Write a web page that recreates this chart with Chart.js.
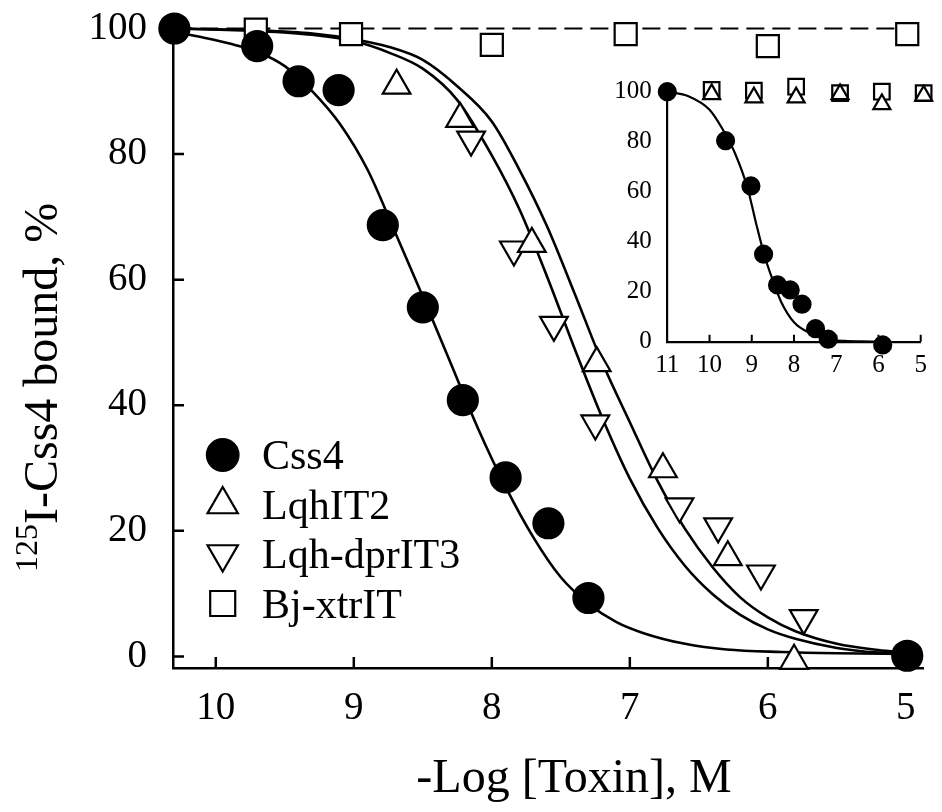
<!DOCTYPE html>
<html>
<head>
<meta charset="utf-8">
<script src="https://cdn.jsdelivr.net/npm/chart.js@4.4.1/dist/chart.umd.min.js"></script>
<style>
  body { margin: 0; background: #fff; }
  #wrap { position: relative; width: 942px; height: 812px; }
  #main { position: absolute; left: 0; top: 0; }
  #inset { position: absolute; left: 590px; top: 70px; }
</style>
</head>
<body>
<div id="wrap">
  <canvas id="main" width="942" height="812"></canvas>
  <canvas id="inset" width="350" height="310"></canvas>
</div>
<script>
// ---- main panel data (-log[toxin] vs % bound) ----
const xTicks = [10, 9, 8, 7, 6, 5];
const yTicks = [0, 20, 40, 60, 80, 100];
const legendLabels = ["Css4", "LqhIT2", "Lqh-dprIT3", "Bj-xtrIT"];

const css4X = [10.3, 9.70, 9.40, 9.11, 8.79, 8.50, 8.21, 7.90, 7.59, 7.30, 4.99];
const css4Y = [100, 97.2, 91.6, 90.2, 68.7, 55.6, 40.8, 28.5, 21.2, 9.3, 0.1];

const lqhX = [8.69, 8.23, 7.71, 7.24, 6.76, 6.29, 5.81];
const lqhY = [90.9, 85.6, 65.7, 46.7, 29.8, 15.8, -0.7];

const dprX = [8.15, 7.84, 7.55, 7.25, 6.64, 6.36, 6.05, 5.74];
const dprY = [82.3, 64.8, 52.8, 37.1, 23.9, 20.7, 13.2, 6.1];

const bjX = [9.71, 9.02, 8.00, 7.03, 6.00, 4.99];
const bjY = [99.8, 99.1, 97.4, 99.1, 97.2, 99.1];

// fitted curves
const css4CurveX = [10.3, 10.1, 9.9, 9.7, 9.5, 9.3, 9.1, 8.9, 8.7, 8.5, 8.3, 8.1, 7.9, 7.7, 7.5, 7.3, 7.1, 6.9, 6.6, 6.3, 5.9, 5.5, 5.0];
const css4CurveY = [99.5, 98.6, 97.6, 96.3, 94, 90, 84.8, 77.5, 67.5, 57.3, 46.8, 36.3, 27, 19, 12.6, 8.4, 5.5, 3.7, 2.0, 1.1, 0.7, 0.5, 0.4];

const fitX = [10.3, 9.7, 9.3, 9.0, 8.75, 8.5, 8.25, 8.0, 7.8, 7.6, 7.4, 7.2, 7.0, 6.8, 6.6, 6.4, 6.2, 6.0, 5.8, 5.5, 5.2, 5.0];
const lqhCurveY = [100, 99.7, 99.2, 98.3, 97.1, 95, 90.8, 85.2, 77.5, 68.5, 57.8, 46.8, 37.3, 28, 20.3, 14.2, 9.4, 6.2, 4.0, 2.0, 1.0, 0.6];
const dprCurveY = [100, 99.6, 99, 98, 96.2, 93.6, 88.6, 79.8, 71.2, 60.5, 49, 38, 28.3, 20.5, 14.4, 9.9, 6.6, 4.3, 2.8, 1.35, 0.6, 0.4];

const bjLineX = [10.3, 5.0];
const bjLineY = [100, 100];

// ---- inset data ----
const insetXTicks = [11, 10, 9, 8, 7, 6, 5];
const insetYTicks = [0, 20, 40, 60, 80, 100];
const inCss4X = [11, 9.62, 9.02, 8.72, 8.39, 8.09, 7.81, 7.49, 7.19, 5.90];
const inCss4Y = [100, 80.4, 62.3, 35, 22.7, 20.7, 15, 5.2, 1, -1.3];
const inTriX = [9.95, 8.95, 7.95, 6.91, 5.92, 4.93];
const inTriY = [99, 97.7, 97.7, 99, 95, 98.4];
const inSqX = [9.95, 8.95, 7.95, 6.91, 5.92, 4.93];
const inSqY = [100.7, 100.4, 102, 99.4, 100, 99.4];
const inCurveX = [11, 10.5, 10.0, 9.7, 9.4, 9.1, 8.9, 8.7, 8.5, 8.3, 8.0, 7.6, 7.2, 6.8, 6.4, 6.0];
const inCurveY = [100, 98.2, 92.8, 85.3, 75.5, 61.5, 47.5, 34.5, 24.5, 15.8, 7.8, 3.3, 1.0, 0.3, 0.1, 0];

const SERIF = "'Liberation Serif', 'Times New Roman', serif";
Chart.defaults.font.family = SERIF;
Chart.defaults.color = "#000";

function pts(xs, ys) {
  return xs.map((x, i) => ({ x: x, y: ys[i] }));
}

function marks(label, xs, ys, style, r, fill, rot) {
  return {
    label: label,
    data: pts(xs, ys),
    showLine: false,
    pointStyle: style,
    pointRadius: r,
    pointHoverRadius: r,
    pointRotation: rot || 0,
    pointBackgroundColor: fill,
    pointBorderColor: "#000",
    pointBorderWidth: 2.2,
    clip: false
  };
}

function curve(xs, ys, w, dash) {
  return {
    data: pts(xs, ys),
    showLine: true,
    pointRadius: 0,
    borderColor: "#000",
    borderWidth: w,
    borderDash: dash || [],
    cubicInterpolationMode: "monotone",
    fill: false,
    clip: false
  };
}

// small tick marks pointing into the plot
const inwardTicks = {
  id: "inwardTicks",
  beforeDatasetsDraw(chart, args, opts) {
    const ctx = chart.ctx, a = chart.chartArea;
    ctx.save();
    ctx.strokeStyle = "#000";
    ctx.lineWidth = opts.width;
    ctx.beginPath();
    opts.xValues.forEach(v => {
      const px = chart.scales.x.getPixelForValue(v);
      ctx.moveTo(px, a.bottom);
      ctx.lineTo(px, a.bottom - opts.len);
    });
    opts.yValues.forEach(v => {
      const py = chart.scales.y.getPixelForValue(v);
      ctx.moveTo(a.left, py);
      ctx.lineTo(a.left + opts.len, py);
    });
    ctx.stroke();
    ctx.restore();
  }
};

function drawMarker(ctx, style, x, y, r, fill) {
  ctx.beginPath();
  if (style === "circle") {
    ctx.arc(x, y, r, 0, Math.PI * 2);
  } else if (style === "up" || style === "down") {
    const s = style === "up" ? 1 : -1;
    const hw = r * Math.sin(Math.PI / 3);
    ctx.moveTo(x, y - s * r);
    ctx.lineTo(x + hw, y + s * r / 2);
    ctx.lineTo(x - hw, y + s * r / 2);
    ctx.closePath();
  } else {
    const h = r * Math.SQRT1_2;
    ctx.rect(x - h, y - h, 2 * h, 2 * h);
  }
  ctx.fillStyle = fill;
  ctx.fill();
  ctx.lineWidth = 2.2;
  ctx.strokeStyle = "#000";
  ctx.stroke();
}

// axis titles and the legend
const annotations = {
  id: "annotations",
  afterDraw(chart) {
    const ctx = chart.ctx;
    ctx.save();
    ctx.fillStyle = "#000";

    // x title
    ctx.font = "48px " + SERIF;
    ctx.textAlign = "center";
    ctx.textBaseline = "alphabetic";
    ctx.fillText("-Log [Toxin], M", 574, 792);

    // y title with superscript
    ctx.save();
    ctx.translate(57, 572);
    ctx.rotate(-Math.PI / 2);
    ctx.textAlign = "left";
    ctx.font = "32px " + SERIF;
    ctx.fillText("125", 0, -20);
    const supW = ctx.measureText("125").width;
    ctx.font = "48px " + SERIF;
    ctx.fillText("I-Css4 bound, %", supW, 0);
    ctx.restore();

    // legend
    const styles = ["circle", "up", "down", "rect"];
    const fills = ["#000", "#fff", "#fff", "#fff"];
    const radii = [15.8, 17.5, 17.5, 17.7];
    ctx.font = "42px " + SERIF;
    ctx.textAlign = "left";
    legendLabels.forEach((lab, i) => {
      const cy = 455 + i * 49.5;
      drawMarker(ctx, styles[i], 222.7, cy, radii[i], fills[i]);
      ctx.fillStyle = "#000";
      ctx.fillText(lab, 262, cy + 14);
    });
    ctx.restore();
  }
};

new Chart(document.getElementById("main"), {
  type: "scatter",
  data: {
    datasets: [
      marks("Css4", css4X, css4Y, "circle", 15, "#000"),
      marks("LqhIT2", lqhX, lqhY, "triangle", 16, "#fff"),
      marks("Lqh-dprIT3", dprX, dprY, "triangle", 16, "#fff", 180),
      marks("Bj-xtrIT", bjX, bjY, "rect", 15.6, "#fff"),
      curve(css4CurveX, css4CurveY, 2.6),
      curve(fitX, lqhCurveY, 2.6),
      curve(fitX, dprCurveY, 2.6),
      curve(bjLineX, bjLineY, 2, [18, 8])
    ]
  },
  options: {
    responsive: false,
    animation: false,
    events: [],
    layout: { padding: { left: 0, right: 4, top: 28.5, bottom: 0 } },
    plugins: {
      legend: { display: false },
      tooltip: { enabled: false },
      inwardTicks: { xValues: [10, 9, 8, 7, 6, 5], yValues: [0, 20, 40, 60, 80], len: 11, width: 2.5 }
    },
    scales: {
      x: {
        type: "linear",
        reverse: true,
        min: 4.87,
        max: 10.31,
        afterBuildTicks: s => { s.ticks = xTicks.map(v => ({ value: v })); },
        afterFit: s => { s.height = 144; },
        grid: { display: false, drawTicks: false },
        border: { display: true, color: "#000", width: 2.5 },
        ticks: { font: { size: 39 }, padding: 17, maxRotation: 0, autoSkip: false }
      },
      y: {
        type: "linear",
        min: -1.85,
        max: 100,
        afterBuildTicks: s => { s.ticks = yTicks.map(v => ({ value: v })); },
        afterFit: s => { s.width = 173; },
        grid: { display: false, drawTicks: false },
        border: { display: true, color: "#000", width: 2.5 },
        ticks: { font: { size: 39, lineHeight: 0.05 }, padding: 26, autoSkip: false }
      }
    }
  },
  plugins: [inwardTicks, annotations]
});

new Chart(document.getElementById("inset"), {
  type: "scatter",
  data: {
    datasets: [
      marks("Css4", inCss4X, inCss4Y, "circle", 8.5, "#000"),
      marks("LqhIT2", inTriX, inTriY, "triangle", 9.8, "#fff"),
      marks("Bj-xtrIT", inSqX, inSqY, "rect", 11, "#fff"),
      curve(inCurveX, inCurveY, 2.2)
    ]
  },
  options: {
    responsive: false,
    animation: false,
    events: [],
    layout: { padding: { left: 0, right: 19.3, top: 21.7, bottom: 0 } },
    plugins: {
      legend: { display: false },
      tooltip: { enabled: false },
      inwardTicks: { xValues: [10, 9, 8, 7, 6, 5], yValues: [], len: 7, width: 2 }
    },
    scales: {
      x: {
        type: "linear",
        reverse: true,
        min: 5,
        max: 11,
        afterBuildTicks: s => { s.ticks = insetXTicks.map(v => ({ value: v })); },
        afterFit: s => { s.height = 38.3; },
        grid: { display: false, drawTicks: false },
        border: { display: true, color: "#000", width: 2.2 },
        ticks: { font: { size: 25 }, padding: 9, maxRotation: 0, autoSkip: false }
      },
      y: {
        type: "linear",
        min: 0,
        max: 100,
        afterBuildTicks: s => { s.ticks = insetYTicks.map(v => ({ value: v })); },
        afterFit: s => { s.width = 77.3; },
        grid: { display: false, drawTicks: false },
        border: { display: true, color: "#000", width: 2.2 },
        ticks: { font: { size: 25, lineHeight: 0.05 }, padding: 15.6, autoSkip: false }
      }
    }
  },
  plugins: [inwardTicks]
});
</script>
</body>
</html>
